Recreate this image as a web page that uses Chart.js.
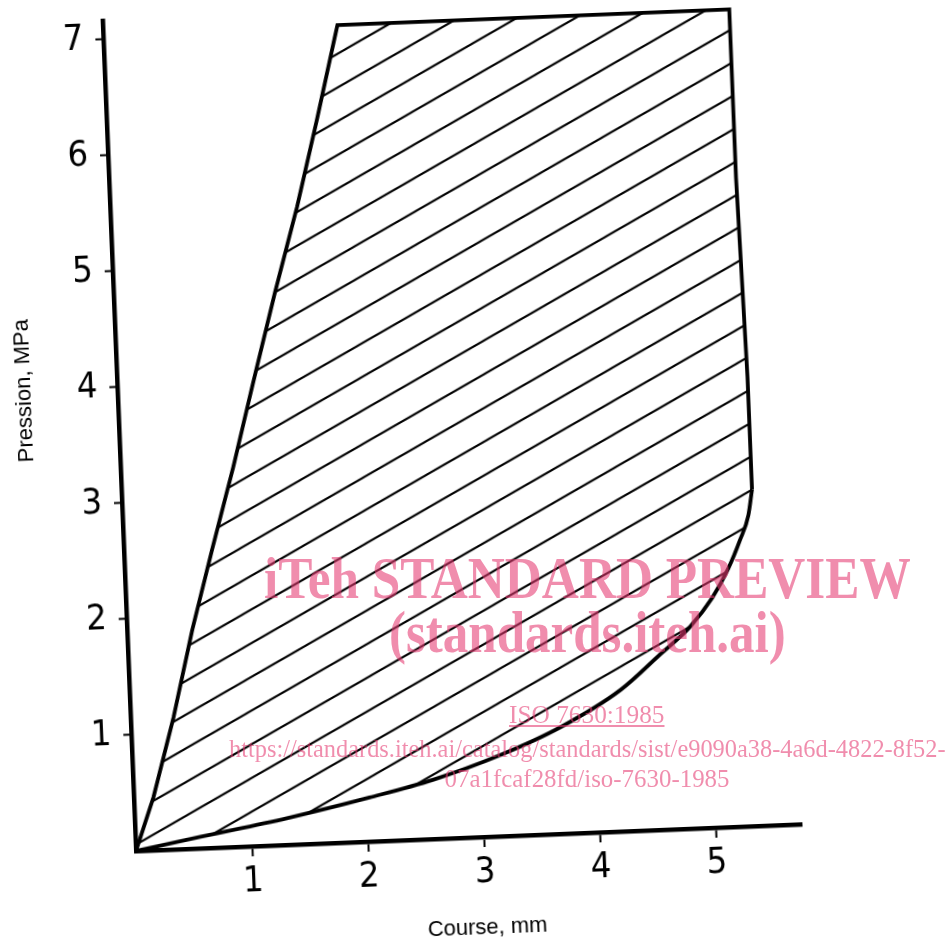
<!DOCTYPE html>
<html lang="fr">
<head>
<meta charset="utf-8">
<title>Pression en fonction de la course</title>
<script src="https://cdn.jsdelivr.net/npm/chart.js@4.4.1/dist/chart.umd.min.js"></script>
<style>
html, body { margin: 0; padding: 0; background: #fff; width: 951px; height: 943px; overflow: hidden; }
#graph { position: absolute; left: 0; top: 0; transform: rotate(-2.3deg); transform-origin: 136px 851px; }
.filigrane { position: absolute; left: 0; width: 1174px; text-align: center; white-space: nowrap;
	font-family: 'Liberation Serif', 'Times New Roman', serif; color: rgba(228, 55, 110, 0.57); line-height: 1; }
.filigrane span { display: inline-block; transform-origin: 50% 50%; }
.gros { font-size: 60px; font-weight: bold; }
.petit { font-size: 25px; }
</style>
</head>
<body>
<canvas id="graph" width="951" height="970"></canvas>

<div class="filigrane gros" style="top:548px"><span data-w="647">iTeh STANDARD PREVIEW</span></div>
<div class="filigrane gros" style="top:602px"><span data-w="397">(standards.iteh.ai)</span></div>
<div class="filigrane petit" style="top:702px"><span data-w="155" style="text-decoration:underline">ISO 7630:1985</span></div>
<div class="filigrane petit" style="top:736px"><span data-w="717">https://standards.iteh.ai/catalog/standards/sist/e9090a38-4a6d-4822-8f52-</span></div>
<div class="filigrane petit" style="top:766px"><span data-w="285">07a1fcaf28fd/iso-7630-1985</span></div>

<script>
// limite haute : depuis l'origine, bord gauche, bord superieur puis bord droit
var courseHaute   = [0, 0.17, 0.37, 0.56, 0.76, 0.97, 1.17, 1.39, 1.61, 1.81, 2.02, 5.40, 5.40, 5.40, 5.41, 5.42, 5.43, 5.43, 5.43];
var pressionHaute = [0, 0.46, 1.14, 1.88, 2.57, 3.27, 3.99, 4.76, 5.49, 6.23, 7.04, 7.04, 6.18, 5.59, 5.03, 4.45, 3.87, 3.33, 2.90];

// limite basse : depuis l'origine jusqu'au coude du bord droit
var courseBasse   = [0, 0.56, 1.31, 2.03, 2.58, 3.17, 3.70, 4.23, 4.58, 4.85, 5.05, 5.20, 5.31, 5.39, 5.43];
var pressionBasse = [0, 0.10, 0.23, 0.38, 0.51, 0.70, 0.92, 1.22, 1.51, 1.74, 1.98, 2.23, 2.47, 2.68, 2.90];

var ticksCourse = [1, 2, 3, 4, 5];
var ticksPression = [1, 2, 3, 4, 5, 6, 7];

var policeChiffres = "'DejaVu Sans Condensed', 'DejaVu Sans', sans-serif";
var policeTitres = "'Liberation Sans', Arial, sans-serif";

function motifHachures()
{
	var w = 63, h = 33;
	var c = document.createElement('canvas');
	c.width = w;
	c.height = h;
	var g = c.getContext('2d');
	g.strokeStyle = '#000';
	g.lineWidth = 2.1;
	[-h, 0, h].forEach(function(d)
	{
		g.beginPath();
		g.moveTo(-w, 2 * h + d);
		g.lineTo(2 * w, -h + d);
		g.stroke();
	});
	var ctx = document.getElementById('graph').getContext('2d');
	var p = ctx.createPattern(c, 'repeat');
	p.setTransform(new DOMMatrix([1, 0, 0, 1, 0, -8]));
	return p;
}

function points(xs, ys)
{
	var pts = [];
	for (var i = 0; i < xs.length; i++)
		pts.push({x: xs[i], y: ys[i]});
	return pts;
}

var limiteHaute = points(courseHaute, pressionHaute);
var limiteBasse = points(courseBasse, pressionBasse);
// zone hachuree : limite haute puis limite basse parcourue a l'envers
var zone = limiteHaute.concat(limiteBasse.slice(0, -1).reverse());

function couleurTick(c)
{
	return c.tick && c.tick.value === 0 ? 'rgba(0,0,0,0)' : '#000';
}

function etiquette(valeurs)
{
	return function(v) { return valeurs.indexOf(v) >= 0 ? String(v) : ''; };
}

var ctx = document.getElementById('graph').getContext('2d');

var myChart = new Chart(ctx, {
	type: 'scatter',
	data: {
		datasets: [{
			data: zone,
			showLine: true,
			fill: 'shape',
			backgroundColor: motifHachures(),
			borderWidth: 0,
			pointRadius: 0,
			tension: 0
		}, {
			data: limiteHaute,
			showLine: true,
			fill: false,
			borderColor: '#000',
			borderWidth: 3.8,
			borderJoinStyle: 'miter',
			pointRadius: 0,
			tension: 0
		}, {
			data: limiteBasse,
			showLine: true,
			fill: false,
			borderColor: '#000',
			borderWidth: 3.8,
			pointRadius: 0,
			cubicInterpolationMode: 'monotone'
		}]
	},
	options: {
		responsive: false,
		animation: false,
		layout: { padding: { top: 20, right: 149, left: 0, bottom: 0 } },
		plugins: {
			legend: { display: false },
			tooltip: { enabled: false }
		},
		scales: {
			x: {
				type: 'linear',
				position: 'bottom',
				min: 0,
				max: 5.74,
				afterFit: function(s) { s.height = 119; },
				ticks: {
					stepSize: 1,
					includeBounds: false,
					autoSkip: false,
					maxRotation: 0,
					padding: 4,
					color: '#000',
					font: { family: policeChiffres, size: 36 },
					callback: etiquette(ticksCourse)
				},
				grid: { drawOnChartArea: false, drawTicks: true, tickLength: 10, tickWidth: 2, tickColor: couleurTick },
				border: { display: true, color: '#000', width: 4.5 },
				title: { display: true, text: '\u00a0\u00a0\u00a0\u00a0\u00a0Course, mm', color: '#000',
					font: { family: policeTitres, size: 22 }, padding: { top: 0, bottom: 15 } }
			},
			y: {
				type: 'linear',
				min: 0,
				max: 7.16,
				afterFit: function(s) { s.width = 136; s.paddingTop = 0; s.paddingBottom = 0; },
				ticks: {
					stepSize: 1,
					includeBounds: false,
					autoSkip: false,
					padding: 12,
					color: '#000',
					font: { family: policeChiffres, size: 36 },
					callback: etiquette(ticksPression)
				},
				grid: { drawOnChartArea: false, drawTicks: true, tickLength: 8, tickWidth: 2, tickColor: couleurTick },
				border: { display: true, color: '#000', width: 4.5 },
				title: { display: true, text: '\u00a0'.repeat(16) + 'Pression, MPa', color: '#000',
					font: { family: policeTitres, size: 22 }, padding: { top: 30, bottom: 0 } }
			}
		}
	}
});

// filigrane : largeur ajustee sur celle de la page d'origine
document.querySelectorAll('.filigrane span').forEach(function(s)
{
	var cible = parseFloat(s.getAttribute('data-w'));
	s.style.transform = 'scaleX(' + (cible / s.offsetWidth) + ')';
});
</script>
</body>
</html>
